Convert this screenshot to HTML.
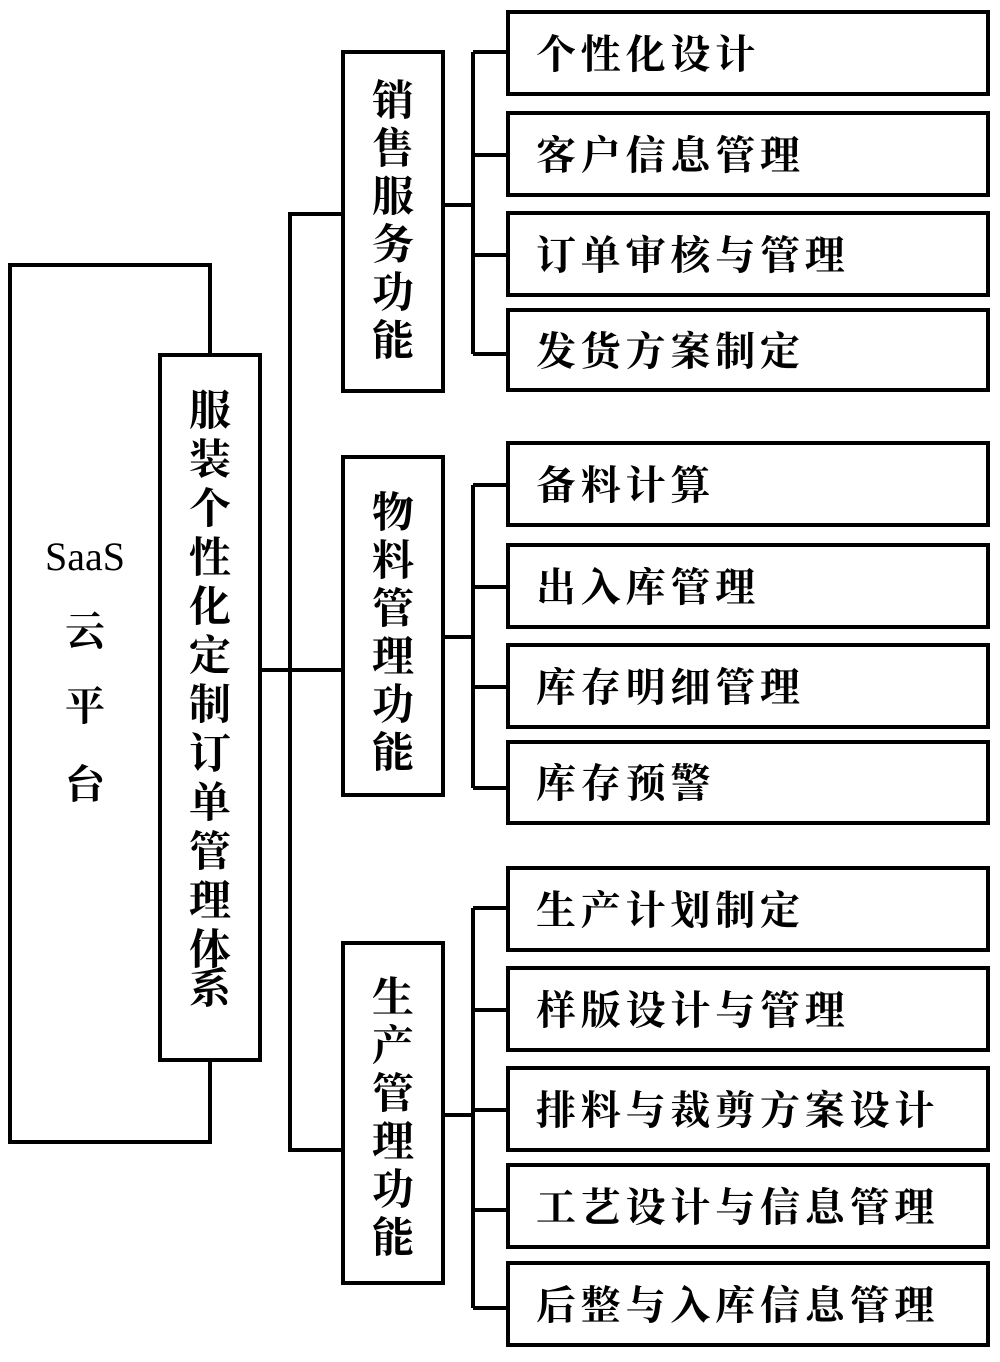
<!DOCTYPE html>
<html><head><meta charset="utf-8"><style>
html,body{margin:0;padding:0;background:#fff;}
svg text{font-family:"Liberation Serif","Noto Serif CJK SC",serif;font-weight:bold;fill:#000;}
</style></head><body>
<svg width="1000" height="1357" viewBox="0 0 1000 1357" xmlns="http://www.w3.org/2000/svg">
<g fill="none" stroke="#000" stroke-width="4">
<rect x="10" y="265" width="200" height="877"/>
<rect x="160" y="355" width="100" height="705" fill="#fff"/>
<path d="M260 670H290M343 214H290V1150H343M290 670H343"/>
<rect x="343" y="52" width="100" height="339"/>
<rect x="343" y="457" width="100" height="338"/>
<rect x="343" y="943" width="100" height="340"/>
<path d="M443 205H473M473 52V354M473 52H508M473 155H508M473 255H508M473 354H508"/>
<path d="M443 637H473M473 485V788M473 485H508M473 587H508M473 687H508M473 788H508"/>
<path d="M443 1115H473M473 908V1308M473 908H508M473 1010H508M473 1110H508M473 1210H508M473 1308H508"/>
<rect x="508" y="12" width="480" height="82"/>
<rect x="508" y="113" width="480" height="82"/>
<rect x="508" y="213" width="480" height="82"/>
<rect x="508" y="310" width="480" height="80"/>
<rect x="508" y="443" width="480" height="82"/>
<rect x="508" y="545" width="480" height="82"/>
<rect x="508" y="645" width="480" height="82"/>
<rect x="508" y="742" width="480" height="81"/>
<rect x="508" y="868" width="480" height="82"/>
<rect x="508" y="968" width="480" height="82"/>
<rect x="508" y="1068" width="480" height="82"/>
<rect x="508" y="1165" width="480" height="82"/>
<rect x="508" y="1263" width="480" height="82"/>
</g>
<g font-size="40" text-anchor="middle">
<text x="85" y="570" style="font-weight:normal">SaaS</text>
<text x="85" y="645">云</text><text x="85" y="720">平</text><text x="85" y="798">台</text>
</g>
<g font-size="42" text-anchor="middle">
<text x="210" y="425">服</text><text x="210" y="474">装</text><text x="210" y="523">个</text><text x="210" y="572">性</text><text x="210" y="621">化</text><text x="210" y="670">定</text><text x="210" y="719">制</text><text x="210" y="768">订</text><text x="210" y="817">单</text><text x="210" y="866">管</text><text x="210" y="915">理</text><text x="210" y="964">体</text><text x="210" y="1003">系</text>
</g>
<g font-size="42" text-anchor="middle">
<text x="393" y="115">销</text><text x="393" y="163">售</text><text x="393" y="211">服</text><text x="393" y="259">务</text><text x="393" y="307">功</text><text x="393" y="355">能</text>
<text x="393" y="527">物</text><text x="393" y="575">料</text><text x="393" y="623">管</text><text x="393" y="671">理</text><text x="393" y="719">功</text><text x="393" y="767">能</text>
<text x="393" y="1012">生</text><text x="393" y="1060">产</text><text x="393" y="1108">管</text><text x="393" y="1156">理</text><text x="393" y="1204">功</text><text x="393" y="1252">能</text>
</g>
<g font-size="40" letter-spacing="4.8">
<text x="536" y="68">个性化设计</text>
<text x="536" y="169">客户信息管理</text>
<text x="536" y="269">订单审核与管理</text>
<text x="536" y="365">发货方案制定</text>
<text x="536" y="499">备料计算</text>
<text x="536" y="601">出入库管理</text>
<text x="536" y="701">库存明细管理</text>
<text x="536" y="797">库存预警</text>
<text x="536" y="924">生产计划制定</text>
<text x="536" y="1024">样版设计与管理</text>
<text x="536" y="1124">排料与裁剪方案设计</text>
<text x="536" y="1221">工艺设计与信息管理</text>
<text x="536" y="1319">后整与入库信息管理</text>
</g>
</svg>
</body></html>
